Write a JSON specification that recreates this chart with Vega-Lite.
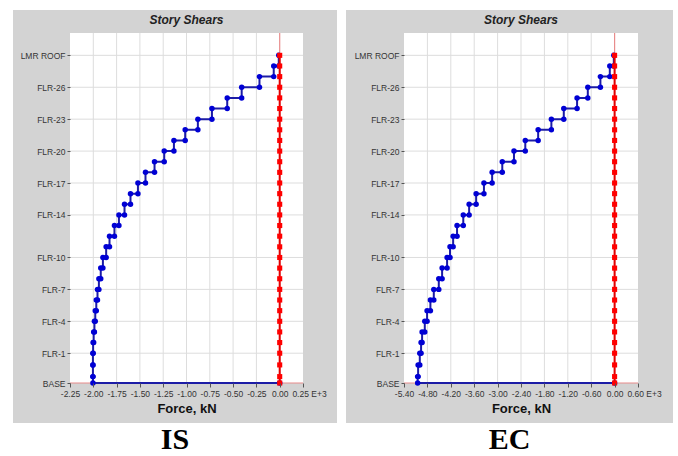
{
  "$schema": "https://vega.github.io/schema/vega-lite/v6.json",
  "usermeta": {"embedOptions": {"actions": false}},
  "background": "white",
  "padding": {"left": 12, "top": 9, "right": 0, "bottom": 0},
  "spacing": 8,
  "config": {
    "view": {"stroke": null},
    "font": "Liberation Sans",
    "axis": {"labelOverlap": false, "labelFlush": false, "labelBound": false, "grid": false, "domain": false, "zindex": 1,
      "tickColor": "#555", "labelFontSize": 8.5, "labelColor": "#333", "labelPadding": 2}
  },
  "datasets": {
    "IS": [
      {"o":1,"elev":92.4,"kN":-10},{"o":2,"elev":89.4,"kN":-10},
      {"o":3,"elev":89.4,"kN":-64},{"o":4,"elev":86.4,"kN":-64},
      {"o":5,"elev":86.4,"kN":-217},{"o":6,"elev":83.4,"kN":-217},
      {"o":7,"elev":83.4,"kN":-408},{"o":8,"elev":80.4,"kN":-408},
      {"o":9,"elev":80.4,"kN":-563},{"o":10,"elev":77.4,"kN":-563},
      {"o":11,"elev":77.4,"kN":-727},{"o":12,"elev":74.4,"kN":-727},
      {"o":13,"elev":74.4,"kN":-878},{"o":14,"elev":71.4,"kN":-878},
      {"o":15,"elev":71.4,"kN":-1014},{"o":16,"elev":68.4,"kN":-1014},
      {"o":17,"elev":68.4,"kN":-1135},{"o":18,"elev":65.4,"kN":-1135},
      {"o":19,"elev":65.4,"kN":-1239},{"o":20,"elev":62.4,"kN":-1239},
      {"o":21,"elev":62.4,"kN":-1343},{"o":22,"elev":59.4,"kN":-1343},
      {"o":23,"elev":59.4,"kN":-1440},{"o":24,"elev":56.4,"kN":-1440},
      {"o":25,"elev":56.4,"kN":-1521},{"o":26,"elev":53.4,"kN":-1521},
      {"o":27,"elev":53.4,"kN":-1601},{"o":28,"elev":50.4,"kN":-1601},
      {"o":29,"elev":50.4,"kN":-1665},{"o":30,"elev":47.4,"kN":-1665},
      {"o":31,"elev":47.4,"kN":-1725},{"o":32,"elev":44.4,"kN":-1725},
      {"o":33,"elev":44.4,"kN":-1773},{"o":34,"elev":41.4,"kN":-1773},
      {"o":35,"elev":41.4,"kN":-1826},{"o":36,"elev":38.4,"kN":-1826},
      {"o":37,"elev":38.4,"kN":-1862},{"o":38,"elev":35.4,"kN":-1862},
      {"o":39,"elev":35.4,"kN":-1897},{"o":40,"elev":32.4,"kN":-1897},
      {"o":41,"elev":32.4,"kN":-1920},{"o":42,"elev":29.4,"kN":-1920},
      {"o":43,"elev":29.4,"kN":-1940},{"o":44,"elev":26.4,"kN":-1940},
      {"o":45,"elev":26.4,"kN":-1955},{"o":46,"elev":23.4,"kN":-1955},
      {"o":47,"elev":23.4,"kN":-1968},{"o":48,"elev":20.4,"kN":-1968},
      {"o":49,"elev":20.4,"kN":-1979},{"o":50,"elev":17.4,"kN":-1979},
      {"o":51,"elev":17.4,"kN":-1988},{"o":52,"elev":14.4,"kN":-1988},
      {"o":53,"elev":14.4,"kN":-1996},{"o":54,"elev":11.4,"kN":-1996},
      {"o":55,"elev":11.4,"kN":-2002},{"o":56,"elev":8.4,"kN":-2002},
      {"o":57,"elev":8.4,"kN":-2004},{"o":58,"elev":5.1,"kN":-2004},
      {"o":59,"elev":5.1,"kN":-2004},{"o":60,"elev":1.8,"kN":-2004},
      {"o":61,"elev":1.8,"kN":-2004},{"o":62,"elev":0,"kN":-2004},
      {"o":63,"elev":0,"kN":0}
    ],
    "EC": [
      {"o":1,"elev":92.4,"kN":-20},{"o":2,"elev":89.4,"kN":-20},
      {"o":3,"elev":89.4,"kN":-123},{"o":4,"elev":86.4,"kN":-123},
      {"o":5,"elev":86.4,"kN":-364},{"o":6,"elev":83.4,"kN":-364},
      {"o":7,"elev":83.4,"kN":-687},{"o":8,"elev":80.4,"kN":-687},
      {"o":9,"elev":80.4,"kN":-962},{"o":10,"elev":77.4,"kN":-962},
      {"o":11,"elev":77.4,"kN":-1303},{"o":12,"elev":74.4,"kN":-1303},
      {"o":13,"elev":74.4,"kN":-1621},{"o":14,"elev":71.4,"kN":-1621},
      {"o":15,"elev":71.4,"kN":-1960},{"o":16,"elev":68.4,"kN":-1960},
      {"o":17,"elev":68.4,"kN":-2290},{"o":18,"elev":65.4,"kN":-2290},
      {"o":19,"elev":65.4,"kN":-2580},{"o":20,"elev":62.4,"kN":-2580},
      {"o":21,"elev":62.4,"kN":-2880},{"o":22,"elev":59.4,"kN":-2880},
      {"o":23,"elev":59.4,"kN":-3140},{"o":24,"elev":56.4,"kN":-3140},
      {"o":25,"elev":56.4,"kN":-3350},{"o":26,"elev":53.4,"kN":-3350},
      {"o":27,"elev":53.4,"kN":-3550},{"o":28,"elev":50.4,"kN":-3550},
      {"o":29,"elev":50.4,"kN":-3730},{"o":30,"elev":47.4,"kN":-3730},
      {"o":31,"elev":47.4,"kN":-3880},{"o":32,"elev":44.4,"kN":-3880},
      {"o":33,"elev":44.4,"kN":-4040},{"o":34,"elev":41.4,"kN":-4040},
      {"o":35,"elev":41.4,"kN":-4140},{"o":36,"elev":38.4,"kN":-4140},
      {"o":37,"elev":38.4,"kN":-4220},{"o":38,"elev":35.4,"kN":-4220},
      {"o":39,"elev":35.4,"kN":-4295},{"o":40,"elev":32.4,"kN":-4295},
      {"o":41,"elev":32.4,"kN":-4423},{"o":42,"elev":29.4,"kN":-4423},
      {"o":43,"elev":29.4,"kN":-4508},{"o":44,"elev":26.4,"kN":-4508},
      {"o":45,"elev":26.4,"kN":-4636},{"o":46,"elev":23.4,"kN":-4636},
      {"o":47,"elev":23.4,"kN":-4723},{"o":48,"elev":20.4,"kN":-4723},
      {"o":49,"elev":20.4,"kN":-4808},{"o":50,"elev":17.4,"kN":-4808},
      {"o":51,"elev":17.4,"kN":-4867},{"o":52,"elev":14.4,"kN":-4867},
      {"o":53,"elev":14.4,"kN":-4936},{"o":54,"elev":11.4,"kN":-4936},
      {"o":55,"elev":11.4,"kN":-4962},{"o":56,"elev":8.4,"kN":-4962},
      {"o":57,"elev":8.4,"kN":-4995},{"o":58,"elev":5.1,"kN":-4995},
      {"o":59,"elev":5.1,"kN":-5038},{"o":60,"elev":1.8,"kN":-5038},
      {"o":61,"elev":1.8,"kN":-5050},{"o":62,"elev":0,"kN":-5050},
      {"o":63,"elev":0,"kN":0}
    ],
    "VY": [
      {"o":1,"level":"LMR ROOF","elev":92.4,"kN":0},{"o":2,"level":"FLR-28","elev":89.4,"kN":0},
      {"o":3,"level":"FLR-27","elev":86.4,"kN":0},{"o":4,"level":"FLR-26","elev":83.4,"kN":0},
      {"o":5,"level":"FLR-25","elev":80.4,"kN":0},{"o":6,"level":"FLR-24","elev":77.4,"kN":0},
      {"o":7,"level":"FLR-23","elev":74.4,"kN":0},{"o":8,"level":"FLR-22","elev":71.4,"kN":0},
      {"o":9,"level":"FLR-21","elev":68.4,"kN":0},{"o":10,"level":"FLR-20","elev":65.4,"kN":0},
      {"o":11,"level":"FLR-19","elev":62.4,"kN":0},{"o":12,"level":"FLR-18","elev":59.4,"kN":0},
      {"o":13,"level":"FLR-17","elev":56.4,"kN":0},{"o":14,"level":"FLR-16","elev":53.4,"kN":0},
      {"o":15,"level":"FLR-15","elev":50.4,"kN":0},{"o":16,"level":"FLR-14","elev":47.4,"kN":0},
      {"o":17,"level":"FLR-13","elev":44.4,"kN":0},{"o":18,"level":"FLR-12","elev":41.4,"kN":0},
      {"o":19,"level":"FLR-11","elev":38.4,"kN":0},{"o":20,"level":"FLR-10","elev":35.4,"kN":0},
      {"o":21,"level":"FLR-9","elev":32.4,"kN":0},{"o":22,"level":"FLR-8","elev":29.4,"kN":0},
      {"o":23,"level":"FLR-7","elev":26.4,"kN":0},{"o":24,"level":"FLR-6","elev":23.4,"kN":0},
      {"o":25,"level":"FLR-5","elev":20.4,"kN":0},{"o":26,"level":"FLR-4","elev":17.4,"kN":0},
      {"o":27,"level":"FLR-3","elev":14.4,"kN":0},{"o":28,"level":"FLR-2","elev":11.4,"kN":0},
      {"o":29,"level":"FLR-1","elev":8.4,"kN":0},{"o":30,"level":"GF","elev":5.1,"kN":0},
      {"o":31,"level":"PLINTH","elev":1.8,"kN":0},{"o":32,"level":"BASE","elev":0,"kN":0}
    ],
    "gxIS": [{"v":-2000},{"v":-1750},{"v":-1500},{"v":-1250},{"v":-1000},{"v":-750},{"v":-500},{"v":-250}],
    "gxEC": [{"v":-4800},{"v":-4200},{"v":-3600},{"v":-3000},{"v":-2400},{"v":-1800},{"v":-1200},{"v":-600}],
    "gy": [{"v":8.4},{"v":17.4},{"v":26.4},{"v":35.4},{"v":47.4},{"v":56.4},{"v":65.4},{"v":74.4},{"v":83.4},{"v":92.4}]
  },
  "hconcat": [
    {
      "width": 233,
      "height": 350,
      "layer": [
        {
          "data": {"values": [{}]},
          "mark": {"type": "rect", "color": "#d3d3d3"},
          "encoding": {
            "x": {"datum": -2861.6, "type": "quantitative", "scale": {"domain": [-2250, 250], "nice": false, "zero": false},
              "axis": {"title": "Force, kN", "values": [-2250,-2000,-1750,-1500,-1250,-1000,-750,-500,-250,0,250], "tickCount": 40,
                "labelExpr": "(datum.value < 0 ? '-' : '') + format(abs(datum.value) / 1000, '.2f') + (datum.value == 250 ? ' E+3' : '')",
                "labelOffset": {"condition": {"test": "datum.value == 250", "value": 6}, "value": 0},
                "grid": false, "domain": false, "tickSize": 4, "labelOverlap": false, "labelFlush": false,
                "titleFontSize": 13, "titleFontWeight": "bold", "titleColor": "#111", "titlePadding": 5, "zindex": 1}},
            "x2": {"datum": 614.8},
            "y": {"datum": -11.28, "type": "quantitative", "scale": {"domain": [0, 98.7], "nice": false, "zero": false},
              "axis": {"title": null, "values": [0,8.4,17.4,26.4,35.4,47.4,56.4,65.4,74.4,83.4,92.4], "tickCount": 40,
                "labelExpr": "datum.value == 0 ? 'BASE' : datum.value == 92.4 ? 'LMR ROOF' : 'FLR-' + round((datum.value - 8.4) / 3 + 1)",
                "grid": false, "domain": false, "tickSize": 3, "labelOverlap": false, "labelFlush": false, "zindex": 1}},
            "y2": {"datum": 105.19}
          }
        },
        {
          "data": {"values": [{}]},
          "mark": {"type": "rect", "color": "#ffffff"},
          "encoding": {
            "x": {"datum": -2250, "type": "quantitative", "scale": {"domain": [-2250, 250], "nice": false, "zero": false}},
            "x2": {"datum": 250},
            "y": {"datum": 0, "type": "quantitative", "scale": {"domain": [0, 98.7], "nice": false, "zero": false}},
            "y2": {"datum": 98.7}
          }
        },
        {
          "data": {"name": "gxIS"},
          "mark": {"type": "rule", "color": "#dddddd", "strokeWidth": 1},
          "encoding": {"x": {"field": "v", "type": "quantitative", "scale": {"domain": [-2250, 250], "nice": false, "zero": false}}}
        },
        {
          "data": {"name": "gy"},
          "mark": {"type": "rule", "color": "#dddddd", "strokeWidth": 1},
          "encoding": {"y": {"field": "v", "type": "quantitative", "scale": {"domain": [0, 98.7], "nice": false, "zero": false}}}
        },
        {
          "data": {"values": [{}]},
          "mark": {"type": "rule", "color": "#e88c8c", "strokeWidth": 1.2},
          "encoding": {"x": {"datum": 0, "type": "quantitative", "scale": {"domain": [-2250, 250], "nice": false, "zero": false}}}
        },
        {
          "data": {"values": [{}]},
          "mark": {"type": "rule", "color": "#e88c8c", "strokeWidth": 1.2},
          "encoding": {"y": {"datum": 0, "type": "quantitative", "scale": {"domain": [0, 98.7], "nice": false, "zero": false}}}
        },
        {
          "data": {"name": "IS"},
          "mark": {"type": "line", "color": "#1c1ca6", "strokeWidth": 2, "point": {"shape": "circle", "filled": true, "color": "#0000d4", "size": 30, "opacity": 1}},
          "encoding": {
            "x": {"field": "kN", "type": "quantitative", "scale": {"domain": [-2250, 250], "nice": false, "zero": false}},
            "y": {"field": "elev", "type": "quantitative", "scale": {"domain": [0, 98.7], "nice": false, "zero": false}},
            "order": {"field": "o"}
          }
        },
        {
          "data": {"name": "VY"},
          "mark": {"type": "line", "color": "#e00000", "strokeWidth": 2, "point": {"shape": "square", "filled": true, "color": "#ff0000", "size": 26, "opacity": 1}},
          "encoding": {
            "x": {"field": "kN", "type": "quantitative", "scale": {"domain": [-2250, 250], "nice": false, "zero": false}},
            "y": {"field": "elev", "type": "quantitative", "scale": {"domain": [0, 98.7], "nice": false, "zero": false}},
            "order": {"field": "o"}
          }
        },
        {
          "data": {"values": [{}]},
          "mark": {"type": "text", "text": "Story Shears", "fontSize": 12, "fontWeight": "bold", "fontStyle": "italic", "color": "#222222", "baseline": "alphabetic", "align": "center"},
          "encoding": {
            "x": {"datum": -1000, "type": "quantitative", "scale": {"domain": [-2250, 250], "nice": false, "zero": false}},
            "y": {"datum": 101.1, "type": "quantitative", "scale": {"domain": [0, 98.7], "nice": false, "zero": false}}
          }
        },
        {
          "data": {"values": [{}]},
          "mark": {"type": "text", "text": "IS", "font": "Liberation Serif", "fontSize": 30, "fontWeight": "bold", "color": "#000000", "baseline": "alphabetic", "align": "center"},
          "encoding": {
            "x": {"datum": -1123.4, "type": "quantitative", "scale": {"domain": [-2250, 250], "nice": false, "zero": false}},
            "y": {"datum": -18.6, "type": "quantitative", "scale": {"domain": [0, 98.7], "nice": false, "zero": false}}
          }
        }
      ]
    },
    {
      "width": 234,
      "height": 350,
      "layer": [
        {
          "data": {"values": [{}]},
          "mark": {"type": "rect", "color": "#d3d3d3"},
          "encoding": {
            "x": {"datum": -6887.2, "type": "quantitative", "scale": {"domain": [-5400, 600], "nice": false, "zero": false},
              "axis": {"title": "Force, kN", "values": [-5400,-4800,-4200,-3600,-3000,-2400,-1800,-1200,-600,0,600], "tickCount": 40,
                "labelExpr": "(datum.value < 0 ? '-' : '') + format(abs(datum.value) / 1000, '.2f') + (datum.value == 600 ? ' E+3' : '')",
                "labelOffset": {"condition": {"test": "datum.value == 600", "value": 6}, "value": 0},
                "grid": false, "domain": false, "tickSize": 4, "labelOverlap": false, "labelFlush": false,
                "titleFontSize": 13, "titleFontWeight": "bold", "titleColor": "#111", "titlePadding": 5, "zindex": 1}},
            "x2": {"datum": 1497.4},
            "y": {"datum": -11.28, "type": "quantitative", "scale": {"domain": [0, 98.7], "nice": false, "zero": false},
              "axis": {"title": null, "values": [0,8.4,17.4,26.4,35.4,47.4,56.4,65.4,74.4,83.4,92.4], "tickCount": 40,
                "labelExpr": "datum.value == 0 ? 'BASE' : datum.value == 92.4 ? 'LMR ROOF' : 'FLR-' + round((datum.value - 8.4) / 3 + 1)",
                "grid": false, "domain": false, "tickSize": 3, "labelOverlap": false, "labelFlush": false, "zindex": 1}},
            "y2": {"datum": 105.19}
          }
        },
        {
          "data": {"values": [{}]},
          "mark": {"type": "rect", "color": "#ffffff"},
          "encoding": {
            "x": {"datum": -5400, "type": "quantitative", "scale": {"domain": [-5400, 600], "nice": false, "zero": false}},
            "x2": {"datum": 600},
            "y": {"datum": 0, "type": "quantitative", "scale": {"domain": [0, 98.7], "nice": false, "zero": false}},
            "y2": {"datum": 98.7}
          }
        },
        {
          "data": {"name": "gxEC"},
          "mark": {"type": "rule", "color": "#dddddd", "strokeWidth": 1},
          "encoding": {"x": {"field": "v", "type": "quantitative", "scale": {"domain": [-5400, 600], "nice": false, "zero": false}}}
        },
        {
          "data": {"name": "gy"},
          "mark": {"type": "rule", "color": "#dddddd", "strokeWidth": 1},
          "encoding": {"y": {"field": "v", "type": "quantitative", "scale": {"domain": [0, 98.7], "nice": false, "zero": false}}}
        },
        {
          "data": {"values": [{}]},
          "mark": {"type": "rule", "color": "#e88c8c", "strokeWidth": 1.2},
          "encoding": {"x": {"datum": 0, "type": "quantitative", "scale": {"domain": [-5400, 600], "nice": false, "zero": false}}}
        },
        {
          "data": {"values": [{}]},
          "mark": {"type": "rule", "color": "#e88c8c", "strokeWidth": 1.2},
          "encoding": {"y": {"datum": 0, "type": "quantitative", "scale": {"domain": [0, 98.7], "nice": false, "zero": false}}}
        },
        {
          "data": {"name": "EC"},
          "mark": {"type": "line", "color": "#1c1ca6", "strokeWidth": 2, "point": {"shape": "circle", "filled": true, "color": "#0000d4", "size": 30, "opacity": 1}},
          "encoding": {
            "x": {"field": "kN", "type": "quantitative", "scale": {"domain": [-5400, 600], "nice": false, "zero": false}},
            "y": {"field": "elev", "type": "quantitative", "scale": {"domain": [0, 98.7], "nice": false, "zero": false}},
            "order": {"field": "o"}
          }
        },
        {
          "data": {"name": "VY"},
          "mark": {"type": "line", "color": "#e00000", "strokeWidth": 2, "point": {"shape": "square", "filled": true, "color": "#ff0000", "size": 26, "opacity": 1}},
          "encoding": {
            "x": {"field": "kN", "type": "quantitative", "scale": {"domain": [-5400, 600], "nice": false, "zero": false}},
            "y": {"field": "elev", "type": "quantitative", "scale": {"domain": [0, 98.7], "nice": false, "zero": false}},
            "order": {"field": "o"}
          }
        },
        {
          "data": {"values": [{}]},
          "mark": {"type": "text", "text": "Story Shears", "fontSize": 12, "fontWeight": "bold", "fontStyle": "italic", "color": "#222222", "baseline": "alphabetic", "align": "center"},
          "encoding": {
            "x": {"datum": -2400, "type": "quantitative", "scale": {"domain": [-5400, 600], "nice": false, "zero": false}},
            "y": {"datum": 101.1, "type": "quantitative", "scale": {"domain": [0, 98.7], "nice": false, "zero": false}}
          }
        },
        {
          "data": {"values": [{}]},
          "mark": {"type": "text", "text": "EC", "font": "Liberation Serif", "fontSize": 30, "fontWeight": "bold", "color": "#000000", "baseline": "alphabetic", "align": "center"},
          "encoding": {
            "x": {"datum": -2695, "type": "quantitative", "scale": {"domain": [-5400, 600], "nice": false, "zero": false}},
            "y": {"datum": -18.6, "type": "quantitative", "scale": {"domain": [0, 98.7], "nice": false, "zero": false}}
          }
        }
      ]
    }
  ]
}
